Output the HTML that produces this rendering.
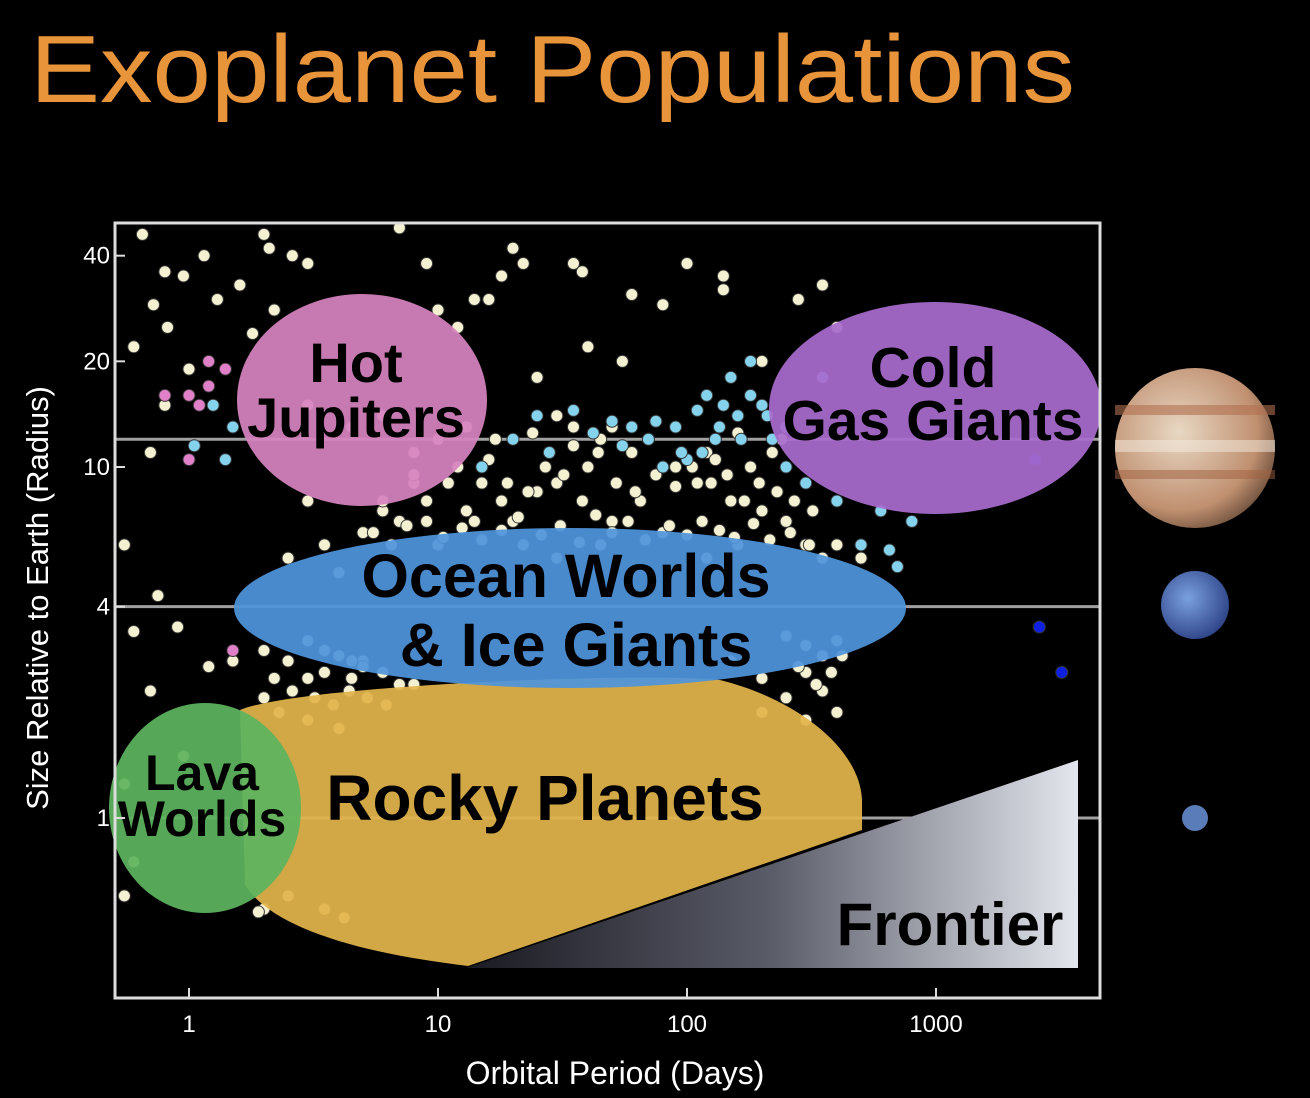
<!DOCTYPE html>
<html><head><meta charset="utf-8"><style>
html,body{margin:0;padding:0;background:#000;}
svg{display:block;}
text{font-family:"Liberation Sans",sans-serif;}
</style></head><body>
<svg id="chart" width="1310" height="1098" viewBox="0 0 1310 1098" xmlns="http://www.w3.org/2000/svg">
<defs>
<linearGradient id="fg" x1="0" y1="0" x2="1" y2="0">
<stop offset="0" stop-color="#1a1a22"/><stop offset="0.5" stop-color="#5a5c68"/><stop offset="1" stop-color="#e4e6ee"/>
</linearGradient>
<radialGradient id="jup" cx="0.4" cy="0.4" r="0.7">
<stop offset="0" stop-color="#e8d8c4"/><stop offset="0.7" stop-color="#c09070"/><stop offset="1" stop-color="#5a4030"/>
</radialGradient>
<radialGradient id="nep" cx="0.4" cy="0.4" r="0.7">
<stop offset="0" stop-color="#7aa0e0"/><stop offset="1" stop-color="#283c80"/>
</radialGradient>
</defs>
<text x="30" y="102" font-size="96" fill="#e8943a" textLength="1045" lengthAdjust="spacingAndGlyphs">Exoplanet Populations</text>
<g id="lines"></g>
<g id="dots"></g>
<g id="shapes"></g>
<rect x="115" y="223" width="985" height="775" fill="none" stroke="#ddd" stroke-width="3"/>
<g id="axes"></g>
<text x="615" y="1084" font-size="32" fill="#fff" text-anchor="middle">Orbital Period (Days)</text>
<text transform="translate(48,598) rotate(-90)" font-size="31" fill="#fff" text-anchor="middle">Size Relative to Earth (Radius)</text>
<g>
<circle cx="1195" cy="448" r="80" fill="url(#jup)"/>
<rect x="1115" y="405" width="160" height="10" fill="#b07050" opacity="0.6"/>
<rect x="1115" y="440" width="160" height="12" fill="#f4ece0" opacity="0.5"/>
<rect x="1115" y="470" width="160" height="9" fill="#a06040" opacity="0.5"/>
</g>
<circle cx="1195" cy="605" r="34" fill="url(#nep)"/>
<circle cx="1195" cy="818" r="13" fill="#5a7cb8"/>
</svg>
<script>
const tickPeriods=[1,10,100,1000];
const tickRadii=[40,20,10,4,1];
const refLineRadii=[12,4,1];
const creamP=[0.65,0.8,0.95,1.15,0.72,0.82,0.6,1.0,1.3,1.6,2.0,2.1,2.6,3.0,2.2,1.8,0.8,0.7,0.55,0.75,0.6,0.9,0.7,1.2,1.5,0.95,0.55,0.6,0.55,2.0,2.5,3.5,4.2,1.9,9,7,10,12,14,16,18,20,22,35,38,60,80,100,140,140,200,280,350,400,40,55,25,30,35,45,60,70,90,110,150,200,250,300,350,400,500,12,15,18,20,25,30,40,50,8,6,5,10,14,22,30,45,65,80,120,160,3,3.5,4,2.5,2,2.5,3,3.5,4.5,5,2,2.3,150,200,250,300,350,400,300,200,8,10,13,17,24,28,35,50,120,130,180,220,240,160,6,4.5,3,
6,7,8,9,11,13,16,19,23,27,32,38,44,52,62,75,90,105,125,145,170,195,230,270,320,
5.5,6.5,7.5,9,10.5,12.5,15,18,21,26,31,37,43,50,58,68,85,100,115,135,155,185,215,260,310,
3,3.5,4,4.5,5,6,7,8,300,350,400,250,280,330,380,420,
2.2,2.6,3.2,3.8,4.4,5.2,6.2,3,4];
const creamR=[46,36,35,40,29,25,22,19,30,33,46,42,40,38,28,24,15,11,6,4.3,3.4,3.5,2.3,2.7,2.8,1.5,1.25,0.75,0.6,0.55,0.6,0.55,0.52,0.54,38,48,28,25,30,30,35,42,38,38,36,31,29,38,35,32,20,30,33,25,22,20,18,14,13,12,11,12,10,9,8,7.5,7,6,5.5,6,5.5,10,9,8,7,8.5,9,10,7,9,7.5,6.5,6,7,6,5.5,6,8,6.5,5.5,6,8,6,5,5.5,3,2.8,2.5,2.6,2.5,2.8,2.2,2.0,2.8,2.5,2.2,2.6,2.3,2.0,1.9,2.0,11,12,13,12,12.5,11,11.5,13,11,10.5,10,11,12,12.5,14,13,15,
8,7,9.5,8,9,7.5,10.5,9,8.5,10,9.5,8,11,9,8.5,9.5,8.8,10,9,9.5,8,9,8.5,8,7.5,
6.5,6,6.8,7,6.3,6.7,6.2,6.6,7.2,6.4,6.8,6.1,7.3,6.5,7,6.2,6.8,6.4,7,6.6,6.3,6.9,6.2,6.5,6,
3.2,3.0,2.9,2.8,2.7,2.6,2.4,2.4,3.1,2.9,3.2,3.3,2.7,2.4,2.6,2.9,
2.5,2.3,2.2,2.1,2.3,2.2,2.1,1.9,1.8];
const cyanP=[25,35,50,60,70,90,110,120,140,160,180,200,150,115,130,220,250,80,100,250,300,400,600,800,500,650,700,6000,8000,1.25,1.05,1.5,1.4,20,15,350,180,28,42,55,75,95,135,165,210];
const cyanR=[14,14.5,13.5,13,12,13,14.5,16,15,14,16,15,18,11,12,12,13,10,10.5,10,9,8,7.5,7,6,5.8,5.2,11,12,15,11.5,13,10.5,12,10,18,20,11,12.5,11.5,13.5,11,13,12,14];
const blueP=[2600,3200,2500,7000];
const blueR=[3.5,2.6,10.5,10.5];
const pinkP=[1.2,1.4,1.0,1.1,0.8,1.0,1.2,1.5];
const pinkR=[20,19,16,15,16,10.5,17,3.0];
const NS='http://www.w3.org/2000/svg';
const xS=p=>189+249*Math.log10(p);
const yS=r=>818-351*Math.log10(r);
function mk(tag,attrs,parent){const e=document.createElementNS(NS,tag);for(const k in attrs)e.setAttribute(k,attrs[k]);document.getElementById(parent).appendChild(e);return e;}
refLineRadii.forEach(r=>{
 const l=mk('line',{x1:115,x2:1100,y1:yS(r),y2:yS(r),stroke:'#a0a0a0','stroke-width':3},'lines');
 
 
});
function dots(P,R,fill,name){P.forEach((p,i)=>{
 const x=xS(p);if(x<118||x>1097)return;
 const c=mk('circle',{cx:x,cy:yS(R[i]),r:6,fill:fill,stroke:'#333','stroke-width':1},'dots');
 
 
});}
dots(creamP,creamR,'#f4f0d2','planet-point');
dots(cyanP,cyanR,'#84d2ec','gas-giant-point');
dots(blueP,blueR,'#1020e0','distant-planet-point');
dots(pinkP,pinkR,'#e080c8','hot-jupiter-point');
const S=document.getElementById('shapes');
S.innerHTML=`
<path d="M240 710 C300 685 640 672 720 680 C800 700 860 750 862 800 L862 830 L468 966 C350 952 270 925 245 885 Z" fill="#e2b44a" opacity="0.93"/>
<polygon points="466,968 1078,760 1078,968" fill="url(#fg)"/>
<ellipse cx="205" cy="808" rx="96" ry="105" fill="#5cb45e" opacity="0.93"/>
<ellipse cx="570" cy="608" rx="336" ry="80" fill="#4f94dc" opacity="0.93"/>
<ellipse cx="362" cy="400" rx="125" ry="106" fill="#d683c0" opacity="0.93"/>
<ellipse cx="935" cy="408" rx="166" ry="106" fill="#a86ccc" opacity="0.93"/>
<g font-weight="bold" fill="#000" text-anchor="middle">
<text x="356" y="382" font-size="56">Hot</text>
<text x="356" y="437" font-size="56">Jupiters</text>
<text x="933" y="387" font-size="57">Cold</text>
<text x="933" y="440" font-size="57">Gas Giants</text>
<text x="566" y="597" font-size="61">Ocean Worlds</text>
<text x="576" y="666" font-size="61">&amp; Ice Giants</text>
<text x="202" y="790" font-size="50">Lava</text>
<text x="202" y="836" font-size="50">Worlds</text>
<text x="545" y="820" font-size="64">Rocky Planets</text>
<text x="950" y="945" font-size="60">Frontier</text>
</g>`;
tickPeriods.forEach(p=>{
 const t=mk('text',{x:xS(p),y:1032,'font-size':24,fill:'#fff','text-anchor':'middle'},'axes');t.textContent=p;
 
 
 const k=mk('line',{x1:xS(p),x2:xS(p),y1:998,y2:988,stroke:'#ddd','stroke-width':2},'axes');
 
 
});
tickRadii.forEach(r=>{
 const t=mk('text',{x:110,y:yS(r)+8,'font-size':24,fill:'#fff','text-anchor':'end'},'axes');t.textContent=r;
 
 
 const k=mk('line',{x1:115,x2:125,y1:yS(r),y2:yS(r),stroke:'#ddd','stroke-width':2},'axes');
 
 
});
</script>
</body></html>
